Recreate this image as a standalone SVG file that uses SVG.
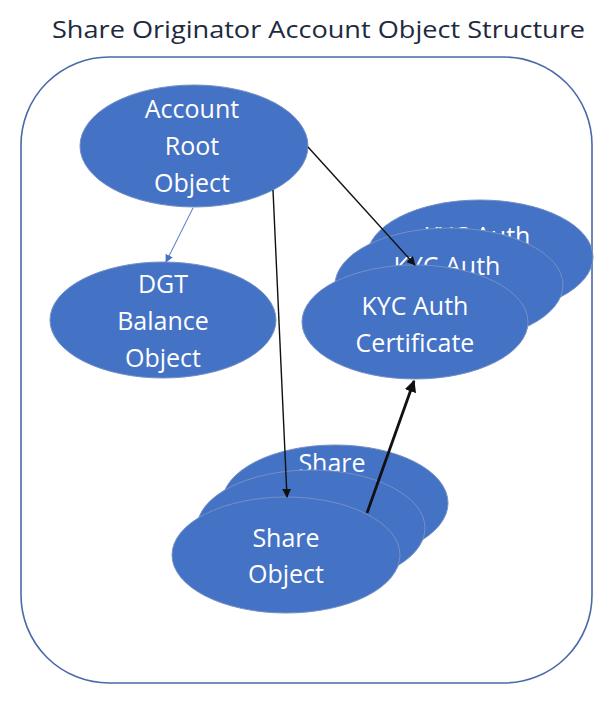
<svg xmlns="http://www.w3.org/2000/svg" width="608" height="704" viewBox="0 0 608 704">
<defs>
<style>
.node{fill:#4472C4;stroke:#7590c4;stroke-width:1}
.lbl{font-family:"Open Sans","Liberation Sans",sans-serif;font-size:25px;fill:#ffffff;text-anchor:middle}
.title{font-family:"Open Sans","Liberation Sans",sans-serif;font-size:24px;fill:#1e2a3e}
.frame{fill:#ffffff;stroke:#4a6aa8;stroke-width:1.6}
.edge{fill:none;stroke:#111111;stroke-width:1.4}
.thick{stroke-width:2.8}
</style>
<marker id="ah" viewBox="0 0 10 10" refX="9" refY="5" markerWidth="9" markerHeight="9" markerUnits="userSpaceOnUse" orient="auto"><path d="M0,0 L10,5 L0,10 z" fill="#111111"/></marker>
<marker id="ahb" viewBox="0 0 10 10" refX="9" refY="5" markerWidth="8" markerHeight="8" markerUnits="userSpaceOnUse" orient="auto"><path d="M0,0 L10,5 L0,10 z" fill="#4472C4"/></marker>
<marker id="ahk" viewBox="0 0 10 10" refX="9" refY="5" markerWidth="12" markerHeight="12" markerUnits="userSpaceOnUse" orient="auto"><path d="M0,0 L10,5 L0,10 z" fill="#111111"/></marker>
</defs>
<rect width="608" height="704" fill="#ffffff"/>
<text class="title" x="52" y="38" textLength="533" lengthAdjust="spacingAndGlyphs">Share Originator Account Object Structure</text>
<rect id="frame" class="frame" x="21" y="57" width="571" height="626" rx="88" ry="88"/>

<g id="account-root">
<ellipse class="node" cx="194" cy="146" rx="114" ry="61"/>
<text class="lbl" x="192" y="118">Account</text>
<text class="lbl" x="192" y="155">Root</text>
<text class="lbl" x="192" y="192">Object</text>
</g>

<g id="dgt-balance">
<ellipse class="node" cx="163" cy="320" rx="113" ry="58"/>
<text class="lbl" x="163" y="293">DGT</text>
<text class="lbl" x="163" y="330">Balance</text>
<text class="lbl" x="163" y="367">Object</text>
</g>

<g id="kyc-back">
<ellipse class="node" cx="480" cy="257" rx="113" ry="57"/>
<text class="lbl" x="477" y="245">KYC Auth</text>
</g>
<g id="kyc-middle">
<ellipse class="node" cx="449" cy="285" rx="114" ry="57"/>
<text class="lbl" x="447" y="275">KYC Auth</text>
</g>
<g id="kyc-front">
<ellipse class="node" cx="415" cy="322" rx="113" ry="57"/>
<text class="lbl" x="415" y="315">KYC Auth</text>
<text class="lbl" x="415" y="352">Certificate</text>
</g>

<g id="share-back">
<ellipse class="node" cx="335" cy="503" rx="113" ry="58"/>
<text class="lbl" x="332" y="472">Share</text>
</g>
<g id="share-middle">
<ellipse class="node" cx="311" cy="528" rx="114" ry="58"/>
</g>
<g id="share-front">
<ellipse class="node" cx="286" cy="555" rx="114" ry="58"/>
<text class="lbl" x="286" y="547">Share</text>
<text class="lbl" x="286" y="583">Object</text>
</g>

<g id="connectors">
<line x1="193" y1="208" x2="166" y2="262" stroke="#4472C4" stroke-width="1" marker-end="url(#ahb)"/>
<line class="edge" x1="308" y1="147" x2="415" y2="265" marker-end="url(#ah)"/>
<path class="edge" d="M273,190 Q280,340 287,497" marker-end="url(#ah)"/>
<line class="edge thick" x1="367" y1="513" x2="414" y2="381" marker-end="url(#ahk)"/>
</g>
</svg>
